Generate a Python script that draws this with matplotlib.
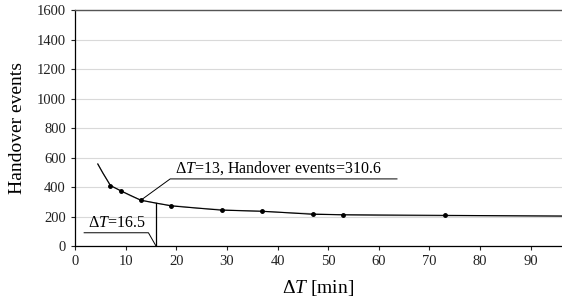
import matplotlib
matplotlib.use("Agg")
import matplotlib.pyplot as plt
import numpy as np

plt.rcParams["font.family"] = ["Liberation Serif", "DejaVu Serif"]
plt.rcParams["mathtext.fontset"] = "custom"
plt.rcParams["mathtext.rm"] = "Liberation Serif"
plt.rcParams["mathtext.it"] = "Liberation Serif:italic"

# measured points
dt = [7, 9, 13, 19, 29, 37, 47, 53, 73]
events = [410, 375, 310.6, 272, 243, 236, 215, 212, 208]

# fitted trend curve
fit_dt = [4.5, 5.5, 7, 9, 11, 13, 16, 19, 24, 29, 37, 47, 53, 60, 73, 85, 97]
fit_ev = [556, 495, 410, 375, 340, 310.6, 290, 275, 258, 246, 234, 219, 211, 207, 205, 204, 203]

xticks = list(range(0, 100, 10))
yticks = list(range(0, 1601, 200))

fig = plt.figure(figsize=(5.62, 3.03), dpi=100)
ax = fig.add_axes([0.1335, 0.188, 0.8665, 0.779])

ax.plot(fit_dt, fit_ev, color="#999999", lw=0.9, zorder=2)
ax.plot(dt, events, color="black", lw=0.8, marker="o", ms=2.5, zorder=3)
ax.plot(fit_dt[:2] + [dt[0]], fit_ev[:2] + [events[0]], color="black", lw=0.8, zorder=3)
ax.plot([dt[-1], fit_dt[-1]], [events[-1], fit_ev[-1]], color="black", lw=0.8, zorder=3)

ax.set_xlim(0, 96.2)
ax.set_ylim(0, 1600)
ax.set_xticks(xticks)
ax.set_yticks(yticks)
ax.tick_params(labelsize=10.5, length=3, width=0.8, direction="out", colors="#222222")
ax.grid(axis="y", color="#d9d9d9", lw=0.8)
ax.set_axisbelow(True)
for s in ["left", "bottom"]:
    ax.spines[s].set_color("black")
    ax.spines[s].set_linewidth(0.9)
ax.spines["right"].set_visible(False)
ax.spines["top"].set_color("#555555")
ax.spines["top"].set_linewidth(1.0)

ax.set_ylabel("Handover events", fontsize=14, labelpad=8)
ax.set_xlabel("Δ$T$ [min]", fontsize=14, labelpad=7)

# annotation: optimum point
ax.plot([13, 18.8, 63.6], [310.6, 455, 455], color="black", lw=0.7, zorder=4)
ax.text(19.8, 470, "Δ$T$=13, Handover events=310.6", fontsize=11.5, va="bottom", ha="left")

# annotation: threshold
ax.plot([16, 16], [0, 290], color="black", lw=0.9, zorder=4)
ax.plot([1.8, 14.5, 16], [90, 90, 0], color="black", lw=0.7, zorder=4)
ax.text(2.6, 105, "Δ$T$=16.5", fontsize=11.5, va="bottom", ha="left")

fig.savefig("out.png", dpi=100)
